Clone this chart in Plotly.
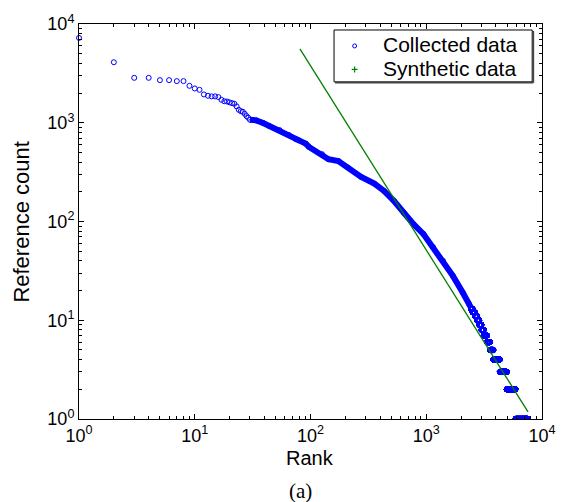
import numpy as np
import plotly.graph_objects as go

# Collected data: individually resolved top-ranked items
top_rank = [1, 2, 3, 4, 5, 6, 7, 8, 9, 10, 11, 12, 13, 14, 15, 16, 17, 18, 19, 20,
            21, 22, 23, 24, 25, 26, 27, 28, 29]
top_count = [7230, 4100, 2850, 2850, 2700, 2700, 2640, 2640, 2365, 2225, 2155, 1935,
             1875, 1850, 1850, 1820, 1708, 1650, 1640, 1608, 1580, 1556, 1465, 1353,
             1310, 1292, 1233, 1170, 1124]

# Collected data: dense middle section (rank, count)
band_rank = [30, 34, 39, 44, 54, 65, 75, 79, 91, 97, 126, 143, 174, 211, 274, 356,
             432, 525, 638, 776, 943, 1146, 1394, 1693, 2060, 2345, 2430]
band_count = [1072, 1057, 993, 926, 843, 751, 680, 664, 614, 569, 480, 427, 410, 351,
              283, 242, 204, 162, 123, 94, 75, 55, 40, 28.3, 19.2, 14.6, 13.5]

# Collected data: low-count tail, each count shared by a run of ranks
level_count = [13, 12, 11, 10, 9, 8, 7, 6, 5, 4, 3, 2, 1]
level_first = [2431, 2520, 2640, 2750, 2870, 3000, 3140, 3350, 3560, 3800, 4320, 4960, 5900]
level_last = [2519, 2639, 2749, 2869, 2999, 3139, 3349, 3559, 3799, 4319, 4959, 5899, 7540]

# Synthetic data: power-law sample, end points of the run
syn_rank = [81, 7570]
syn_count = [5590, 1.18]

legend_names = ["Collected data", "Synthetic data"]

BLUE = "#0000ff"
GREEN = "#008000"
FONT = "Liberation Sans, Arial, sans-serif"
SERIF = "Liberation Serif, Times New Roman, serif"

# plot area in pixels
W, H = 568, 502
L, R, T, B = 79, 17, 23, 83
PW, PH = W - L - R, H - T - B


def px(x):
    return (x - L) / PW


def py(y):
    return (H - B - y) / PH


tail_rank = []
tail_count = []
for c, a, b in zip(level_count, level_first, level_last):
    r = np.arange(a, b + 1)
    tail_rank.extend(r.tolist())
    tail_count.extend([c] * len(r))

marker = dict(symbol="circle-open", size=5, color=BLUE, line=dict(width=1, color=BLUE))

fig = go.Figure()
fig.add_trace(go.Scatter(x=top_rank, y=top_count, mode="markers", marker=marker,
                         name=legend_names[0], cliponaxis=False, showlegend=False))
fig.add_trace(go.Scatter(x=band_rank, y=band_count, mode="lines+markers", marker=marker,
                         line=dict(color=BLUE, width=6), name=legend_names[0],
                         showlegend=False))
fig.add_trace(go.Scatter(x=tail_rank, y=tail_count, mode="markers", marker=marker,
                         name=legend_names[0], showlegend=False))
fig.add_trace(go.Scatter(x=syn_rank, y=syn_count, mode="lines", name=legend_names[1],
                         line=dict(color=GREEN, width=1.3), showlegend=False))

decades = [1, 10, 100, 1000, 10000]
labels = [f"10<sup>{i}</sup>" for i in range(5)]
minor_vals = [m * d for d in [1, 10, 100, 1000] for m in range(2, 10)]

axis_common = dict(
    type="log", range=[0, 4], showline=True, linecolor="black", linewidth=1,
    mirror="allticks", ticks="inside", ticklen=5, tickcolor="black", tickwidth=1,
    tickmode="array", tickvals=decades, ticktext=labels, showgrid=False, zeroline=False,
    tickfont=dict(family=FONT, size=18, color="black"),
    minor=dict(ticks="inside", ticklen=3, tickcolor="black", tickwidth=1,
               tickmode="array", tickvals=minor_vals, showgrid=False),
)

# legend box, drawn in pixel positions
lx0, lx1, ly0, ly1 = 339, 541, 29, 81
shapes = [
    dict(type="rect", xref="paper", yref="paper", x0=px(lx0), x1=px(lx1),
         y0=py(ly1), y1=py(ly0), line=dict(color="black", width=1), fillcolor="white",
         layer="above"),
    dict(type="line", xref="paper", yref="paper", x0=px(lx1 + 1), x1=px(lx1 + 1),
         y0=py(ly1 + 1), y1=py(ly0 + 1), line=dict(color="#444444", width=2), layer="above"),
    dict(type="line", xref="paper", yref="paper", x0=px(lx0 + 1), x1=px(lx1 + 1),
         y0=py(ly1 + 1), y1=py(ly1 + 1), line=dict(color="#444444", width=1.5), layer="above"),
    # collected-data symbol
    dict(type="circle", xref="paper", yref="paper", x0=px(358), x1=px(362),
         y0=py(47), y1=py(43), line=dict(color=BLUE, width=1), layer="above"),
    # synthetic-data symbol
    dict(type="line", xref="paper", yref="paper", x0=px(357), x1=px(363),
         y0=py(68.5), y1=py(68.5), line=dict(color=GREEN, width=1.2), layer="above"),
    dict(type="line", xref="paper", yref="paper", x0=px(360), x1=px(360),
         y0=py(71.5), y1=py(65.5), line=dict(color=GREEN, width=1.2), layer="above"),
]

annotations = [
    dict(text=legend_names[0], xref="paper", yref="paper", x=px(387), y=py(43.5),
         xanchor="left", yanchor="middle", showarrow=False,
         font=dict(family=FONT, size=21, color="black")),
    dict(text=legend_names[1], xref="paper", yref="paper", x=px(387), y=py(68),
         xanchor="left", yanchor="middle", showarrow=False,
         font=dict(family=FONT, size=21, color="black")),
    dict(text="Rank", xref="paper", yref="paper", x=px(314), y=py(458),
         xanchor="center", yanchor="middle", showarrow=False,
         font=dict(family=FONT, size=20, color="black")),
    dict(text="Reference count", xref="paper", yref="paper", x=px(20), y=py(222),
         xanchor="center", yanchor="middle", textangle=-90, showarrow=False,
         font=dict(family=FONT, size=22, color="black")),
    dict(text="(a)", xref="paper", yref="paper", x=px(305), y=py(491),
         xanchor="center", yanchor="middle", showarrow=False,
         font=dict(family=SERIF, size=21, color="black")),
]

fig.update_layout(
    width=W, height=H,
    margin=dict(l=L, r=R, t=T, b=B),
    paper_bgcolor="white", plot_bgcolor="white",
    font=dict(family=FONT, size=18, color="black"),
    xaxis=dict(**axis_common),
    yaxis=dict(**axis_common),
    showlegend=False,
    shapes=shapes,
    annotations=annotations,
)

fig.write_html("out.html")
